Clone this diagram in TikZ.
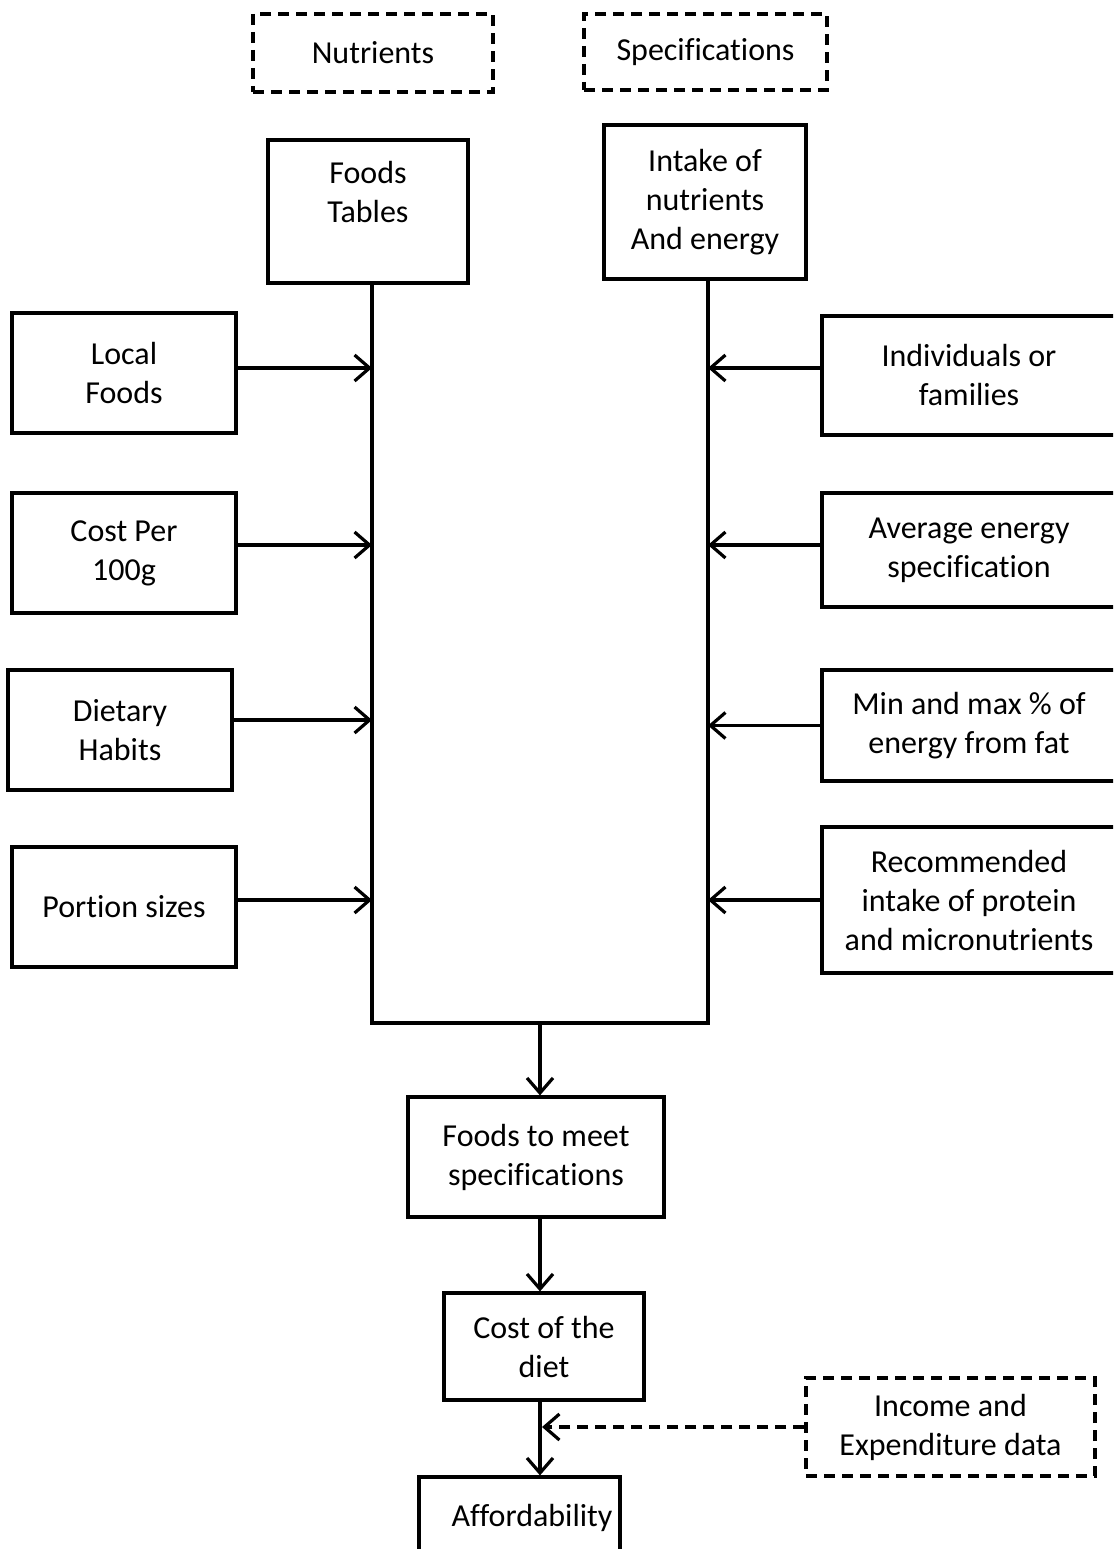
\documentclass[tikz,border=0pt]{standalone}
\usepackage{fontspec}
\setmainfont[Ligatures={NoCommon}]{Carlito}
\usetikzlibrary{arrows.meta}
\begin{document}
\begin{tikzpicture}[x=1pt,y=-1pt,
  box/.style={draw, line width=3.2pt, align=center, inner sep=0pt, font=\fontsize{32}{39}\selectfont},
  dbox/.style={box, dash pattern=on 11pt off 7pt},
  arr/.style={line width=3.2pt, -{Straight Barb[length=15pt,width=26pt,line width=3.2pt]}},
  conn/.style={line width=3.2pt}]
\useasboundingbox (0,0) rectangle (1113,1549);
\clip (0,0) rectangle (1113,1549);
\fill[white] (0,0) rectangle (1113,1549);
% top dashed headers
\node[dbox, minimum width=240pt, minimum height=78pt] (nut) at (373,53) {Nutrients};
\node[dbox, minimum width=243pt, minimum height=76pt] (spec) at (705.5,52) {Specifications};
% top boxes
\node[box, minimum width=200pt, minimum height=143pt] (ft) at (368,211.5) {Foods\\Tables\\\mbox{}};
\node[box, minimum width=202pt, minimum height=154pt] (intake) at (705,202) {Intake of\\nutrients\\And energy};
% left inputs
\node[box, minimum width=224pt, minimum height=120pt] (lf) at (124,373) {Local\\Foods};
\node[box, minimum width=224pt, minimum height=120pt] (cp) at (124,553) {Cost Per\\100g};
\node[box, minimum width=224pt, minimum height=120pt] (dh) at (120,730) {Dietary\\Habits};
\node[box, minimum width=224pt, minimum height=120pt] (ps) at (124,907) {Portion sizes};
% right inputs
\node[box, minimum width=294pt, minimum height=119pt] (ind) at (969,375.5) {Individuals or\\families};
\node[box, minimum width=294pt, minimum height=114pt] (avg) at (969,550) {Average energy\\specification};
\node[box, minimum width=294pt, minimum height=111pt] (mm) at (969,725.5) {Min and max \% of\\energy from fat};
\node[box, minimum width=294pt, minimum height=146pt] (rec) at (969,900) {Recommended\\intake of protein\\and micronutrients};
% bottom chain
\node[box, minimum width=256pt, minimum height=120pt] (fm) at (536,1157) {Foods to meet\\specifications};
\node[box, minimum width=200pt, minimum height=107pt] (cost) at (544,1346.5) {Cost of the\\diet};
\node[box, minimum width=201pt, minimum height=82pt] (aff) at (519.5,1518) {\hspace*{25pt}Affordability};
\node[dbox, minimum width=289pt, minimum height=98pt] (inc) at (950.5,1427) {Income and\\Expenditure data};
% junction points
\coordinate (jl) at (372,1023);
\coordinate (jr) at (708,1023);
\coordinate (jm) at (540,1023);
% trunk lines
\draw[conn] (ft.south -| jl) -- (jl) -- (jr) -- (intake.south -| jr);
\draw[arr] (jm) -- (fm.north -| jm);
% left arrows
\draw[arr] ([yshift=5pt]lf.east) -- ([yshift=5pt]lf.east -| jl);
\draw[arr] ([yshift=8pt]cp.east) -- ([yshift=8pt]cp.east -| jl);
\draw[arr] ([yshift=10pt]dh.east) -- ([yshift=10pt]dh.east -| jl);
\draw[arr] ([yshift=7pt]ps.east) -- ([yshift=7pt]ps.east -| jl);
% right arrows
\draw[arr] ([yshift=7.5pt]ind.west) -- ([yshift=7.5pt]ind.west -| jr);
\draw[arr] ([yshift=5pt]avg.west) -- ([yshift=5pt]avg.west -| jr);
\draw[arr] (mm.west) -- (mm.west -| jr);
\draw[arr] (rec.west) -- (rec.west -| jr);
% chain arrows
\draw[arr] (fm.south -| jm) -- (cost.north -| jm);
\draw[arr] (cost.south -| jm) -- ([yshift=-1pt]cost.south -| jm) -- (aff.north -| jm);
\draw[arr, dash pattern=on 11pt off 7pt] (inc.west) -- ([xshift=2pt]inc.west -| jm);
\end{tikzpicture}
\end{document}
